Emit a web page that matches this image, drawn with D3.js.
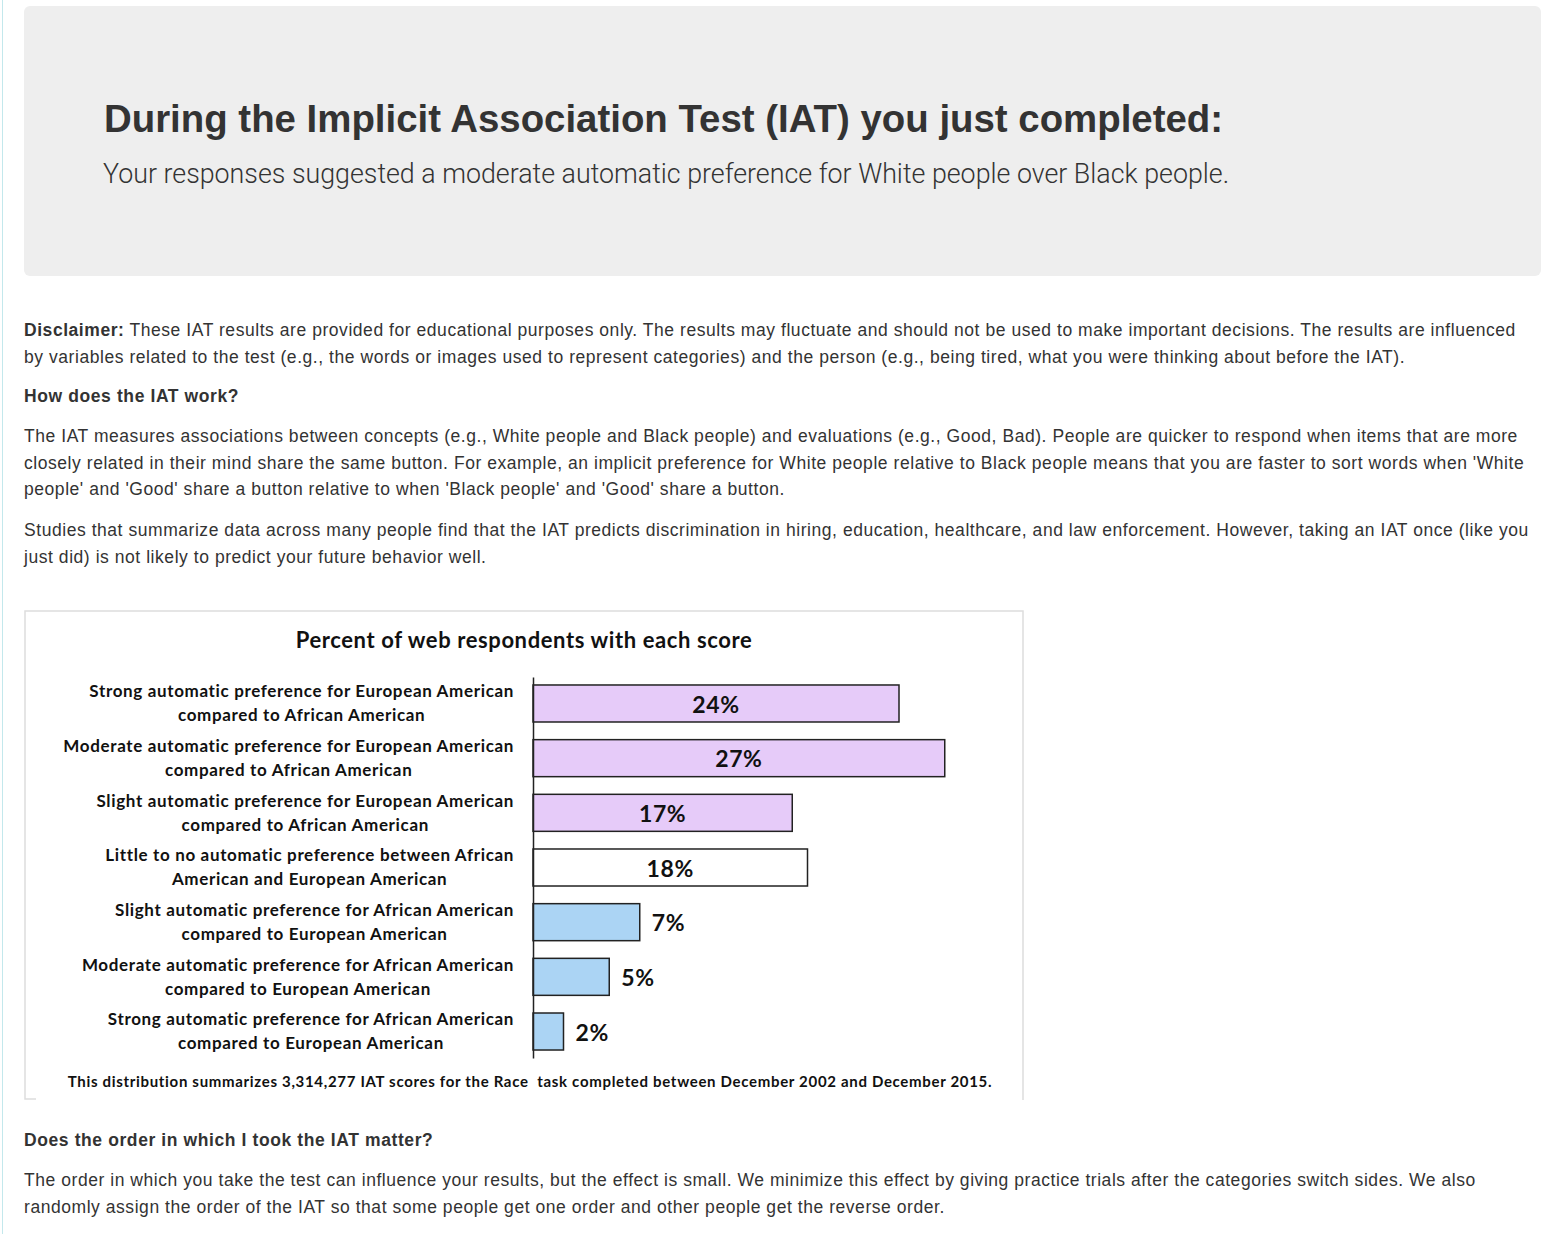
<!DOCTYPE html>
<html>
<head>
<meta charset="utf-8">
<script src="https://cdn.jsdelivr.net/npm/d3@7"></script>
<style>
  html, body { margin: 0; padding: 0; background: #fff; }
  body { width: 1549px; height: 1234px; position: relative; overflow: hidden;
         font-family: "Liberation Sans", Arial, sans-serif; color: #333; }
  .edge { position: absolute; left: 2px; top: 0; width: 1px; height: 1234px; background: #c3e8ec; }
  .jumbo { position: absolute; left: 24px; top: 6px; width: 1517px; height: 270px;
           background: #eee; border-radius: 6px; }
  .jumbo h1 { position: absolute; left: 80px; top: 91px; margin: 0; font-size: 38.4px;
              line-height: 43px; font-weight: bold; white-space: nowrap; color: #333; }
  .jumbo .lead { position: absolute; left: 79px; top: 152px; margin: 0; font-size: 26.8px;
                 line-height: 32px; font-weight: 300; white-space: nowrap; color: #333;
                 font-family: Roboto, "Liberation Sans", sans-serif; }
  .blk { position: absolute; left: 24px; margin: 0; font-size: 17.5px; line-height: 26.6px;
         letter-spacing: 0.55px; white-space: nowrap; }
  .blk.h { font-weight: bold; letter-spacing: 0.6px; }
  #chart { position: absolute; left: 24px; top: 610px; }
</style>
</head>
<body>
<div class="edge"></div>
<div class="jumbo">
  <h1>During the Implicit Association Test (IAT) you just completed:</h1>
  <p class="lead">Your responses suggested a moderate automatic preference for White people over Black people.</p>
</div>

<p class="blk" style="top:317px"><b>Disclaimer:</b> These IAT results are provided for educational purposes only. The results may fluctuate and should not be used to make important decisions. The results are influenced<br>by variables related to the test (e.g., the words or images used to represent categories) and the person (e.g., being tired, what you were thinking about before the IAT).</p>
<p class="blk h" style="top:383px">How does the IAT work?</p>
<p class="blk" style="top:423px">The IAT measures associations between concepts (e.g., White people and Black people) and evaluations (e.g., Good, Bad). People are quicker to respond when items that are more<br>closely related in their mind share the same button. For example, an implicit preference for White people relative to Black people means that you are faster to sort words when 'White<br>people' and 'Good' share a button relative to when 'Black people' and 'Good' share a button.</p>
<p class="blk" style="top:517px">Studies that summarize data across many people find that the IAT predicts discrimination in hiring, education, healthcare, and law enforcement. However, taking an IAT once (like you<br>just did) is not likely to predict your future behavior well.</p>

<svg id="chart"></svg>

<p class="blk h" style="top:1127px">Does the order in which I took the IAT matter?</p>
<p class="blk" style="top:1167px">The order in which you take the test can influence your results, but the effect is small. We minimize this effect by giving practice trials after the categories switch sides. We also<br>randomly assign the order of the IAT so that some people get one order and other people get the reverse order.</p>

<script>
// chart data
const chartTitle = 'Percent of web respondents with each score';
const labelLine1 = [
  'Strong automatic preference for European American',
  'Moderate automatic preference for European American',
  'Slight automatic preference for European American',
  'Little to no automatic preference between African',
  'Slight automatic preference for African American',
  'Moderate automatic preference for African American',
  'Strong automatic preference for African American'
];
const labelLine2 = [
  'compared to African American',
  'compared to African American',
  'compared to African American',
  'American and European American',
  'compared to European American',
  'compared to European American',
  'compared to European American'
];
const percents = [24, 27, 17, 18, 7, 5, 2];
const groups = ['white', 'white', 'white', 'none', 'black', 'black', 'black'];
const footnote = 'This distribution summarizes 3,314,277 IAT scores for the Race  task completed between December 2002 and December 2015.';

const w = 1000;
const h = 490;
const axisX = 509;
const chartFont = 'Lato, "Open Sans", sans-serif';

const svg = d3.select('#chart').attr('width', w).attr('height', h);

// image frame: top, left and right edges, bottom only a short stub
svg.append('path')
  .attr('d', 'M12,' + (h - 1) + 'H1V1H' + (w - 1) + 'V' + h)
  .attr('fill', 'none').attr('stroke', '#ddd').attr('stroke-width', 1.5);

const ids = d3.range(percents.length);
const y = d3.scaleBand()
  .domain(ids)
  .range([67, 448])
  .paddingInner(0.323)
  .paddingOuter(0.146);
const x = d3.scaleLinear()
  .domain([0, 30])
  .range([axisX, axisX + 457.5]);
const fill = d3.scaleOrdinal()
  .domain(['white', 'none', 'black'])
  .range(['#e6cbf9', '#ffffff', '#abd4f4']);

svg.append('text')
  .attr('x', 500).attr('y', 30)
  .attr('text-anchor', 'middle').attr('dy', '0.35em')
  .style('font-family', chartFont).style('font-weight', 'bold').style('font-size', '22px')
  .style('letter-spacing', '0.6px')
  .attr('fill', '#111')
  .text(chartTitle);

svg.selectAll('.bar')
  .data(ids)
  .enter()
  .append('rect')
  .classed('bar', true)
  .attr('x', x(0))
  .attr('y', i => y(i))
  .attr('width', i => x(percents[i]) - x(0))
  .attr('height', y.bandwidth())
  .attr('fill', i => fill(groups[i]))
  .attr('stroke', '#222')
  .attr('stroke-width', 1.5);

// category axis (left line only)
const yAxis = d3.axisLeft(y).tickSize(0).tickFormat('');
svg.append('g')
  .attr('transform', 'translate(' + axisX + ',0)')
  .call(yAxis)
  .call(g => g.select('.domain').attr('stroke', '#222').attr('stroke-width', 1.5));

// two-line labels: block right-aligned, lines centred on the first line
const labels = svg.selectAll('.cat')
  .data(ids)
  .enter()
  .append('g')
  .classed('cat', true)
  .style('font-family', chartFont).style('font-weight', 'bold').style('font-size', '17px')
  .style('letter-spacing', '0.65px')
  .attr('fill', '#111');
labels.each(function(i) {
  const g = d3.select(this);
  const cy = y(i) + y.bandwidth() / 2;
  const t1 = g.append('text').attr('y', cy - 12).attr('dy', '0.35em')
    .attr('text-anchor', 'middle').text(labelLine1[i]);
  const t2 = g.append('text').attr('y', cy + 12).attr('dy', '0.35em')
    .attr('text-anchor', 'middle').text(labelLine2[i]);
  const wide = Math.max(t1.node().getComputedTextLength(), t2.node().getComputedTextLength());
  const cx = axisX - 19 - wide / 2;
  t1.attr('x', cx);
  t2.attr('x', cx);
});

svg.selectAll('.val')
  .data(ids)
  .enter()
  .append('text')
  .classed('val', true)
  .attr('x', i => percents[i] >= 10 ? (x(0) + x(percents[i])) / 2 : x(percents[i]) + 12)
  .attr('y', i => y(i) + y.bandwidth() / 2 + 1)
  .attr('dy', '0.35em')
  .attr('text-anchor', i => percents[i] >= 10 ? 'middle' : 'start')
  .style('font-family', chartFont).style('font-weight', 'bold').style('font-size', '23px')
  .style('letter-spacing', '0.6px')
  .attr('fill', '#111')
  .text(i => percents[i] + '%');

svg.append('text')
  .attr('x', 506).attr('y', 472).attr('dy', '0.35em')
  .attr('text-anchor', 'middle')
  .style('font-family', chartFont).style('font-weight', 'bold').style('font-size', '15px')
  .style('letter-spacing', '0.68px')
  .style('white-space', 'pre')
  .attr('fill', '#111')
  .text(footnote);
</script>
</body>
</html>
